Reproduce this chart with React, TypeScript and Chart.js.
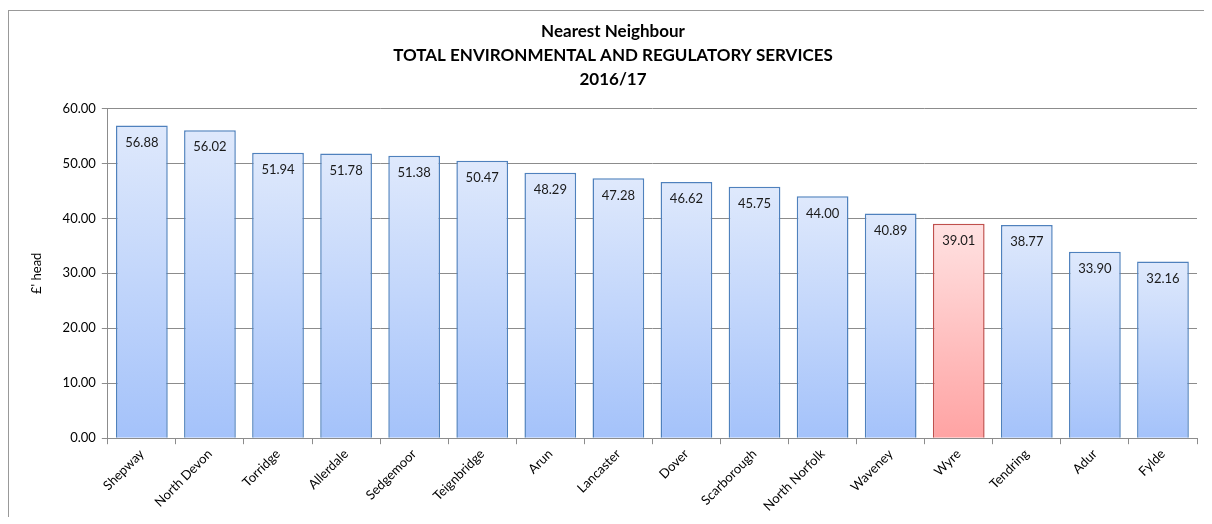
import React, { useEffect, useRef } from "react";
import { Chart, registerables } from "chart.js";

Chart.register(...registerables);

const categories = [
  "Shepway", "North Devon", "Torridge", "Allerdale", "Sedgemoor", "Teignbridge",
  "Arun", "Lancaster", "Dover", "Scarborough", "North Norfolk", "Waveney",
  "Wyre", "Tendring", "Adur", "Fylde",
];
const values = [56.88, 56.02, 51.94, 51.78, 51.38, 50.47, 48.29, 47.28, 46.62, 45.75, 44.0, 40.89, 39.01, 38.77, 33.9, 32.16];
const highlighted = ["Wyre"];
const titleLines = ["Nearest Neighbour", "TOTAL ENVIRONMENTAL AND REGULATORY SERVICES", "2016/17"];
const yAxisTitle = "£' head";

const FONT = "Lato, 'Open Sans', sans-serif";

const labelPlugin = {
  id: "barLabels",
  afterDatasetsDraw(chart: any) {
    const ctx = chart.ctx;
    const meta = chart.getDatasetMeta(0);
    ctx.save();
    ctx.font = `13px ${FONT}`;
    ctx.fillStyle = "#1a1a1a";
    ctx.textAlign = "center";
    ctx.textBaseline = "middle";
    meta.data.forEach((bar: any, i: number) => {
      ctx.fillText(values[i].toFixed(2), bar.x, bar.y + 17);
    });
    ctx.restore();
  },
};

export default function App() {
  const ref = useRef<HTMLCanvasElement | null>(null);
  useEffect(() => {
    if (!ref.current) return;
    const isHi = (i: number) => highlighted.includes(categories[i]);
    const chart = new Chart(ref.current, {
      type: "bar",
      data: {
        labels: categories,
        datasets: [
          {
            data: values,
            backgroundColor: (c: any) => {
              const ch = c.chart;
              const hi = isHi(c.dataIndex);
              if (!ch.chartArea || !ch.scales.y) return hi ? "#ffc0c0" : "#c0d4fa";
              const y = ch.scales.y;
              const top = y.getPixelForValue(values[c.dataIndex]);
              const bottom = y.getPixelForValue(0);
              const g = ch.ctx.createLinearGradient(0, top, 0, bottom);
              if (hi) {
                g.addColorStop(0, "#ffe2e2");
                g.addColorStop(1, "#ffa3a3");
              } else {
                g.addColorStop(0, "#dfe9fc");
                g.addColorStop(1, "#a4c2fa");
              }
              return g;
            },
            borderColor: (c: any) => (isHi(c.dataIndex) ? "#c0504d" : "#4f81bd"),
            borderWidth: 1.5,
            categoryPercentage: 1,
            barPercentage: 0.76,
          },
        ],
      },
      options: {
        animation: false,
        responsive: true,
        maintainAspectRatio: false,
        layout: { padding: { left: 20, right: 7, top: 5, bottom: 1 } },
        plugins: {
          legend: { display: false },
          tooltip: { enabled: false },
          title: {
            display: true,
            text: titleLines,
            color: "#000",
            font: { family: FONT, size: 17, weight: "bold", lineHeight: 1.4 },
            padding: { top: 4, bottom: 17 },
          },
        },
        scales: {
          x: {
            offset: true,
            grid: {
              offset: true,
              drawOnChartArea: false,
              drawTicks: true,
              tickLength: 6,
              color: "#8c8c8c",
            },
            border: { color: "#8c8c8c", width: 1 },
            ticks: {
              color: "#000",
              font: { family: FONT, size: 13 },
              maxRotation: 45,
              minRotation: 45,
              autoSkip: false,
              padding: 2,
            },
          },
          y: {
            min: 0,
            max: 60,
            ticks: {
              stepSize: 10,
              color: "#000",
              font: { family: FONT, size: 13 },
              callback: (v: any) => Number(v).toFixed(2),
              padding: 6,
            },
            grid: { color: "#8c8c8c", tickLength: 6 },
            border: { color: "#8c8c8c", width: 1 },
            title: {
              display: true,
              text: yAxisTitle,
              color: "#000",
              font: { family: FONT, size: 13 },
              padding: { top: 0, bottom: 12 },
            },
          },
        },
      },
      plugins: [labelPlugin],
    });
    return () => chart.destroy();
  }, []);
  return (
    <div
      style={{
        marginTop: 2,
        width: 1195,
        height: 506,
        borderLeft: "1px solid #999",
        borderTop: "1px solid #999",
        position: "relative",
        background: "#fff",
      }}
    >
      <canvas ref={ref} />
    </div>
  );
}
